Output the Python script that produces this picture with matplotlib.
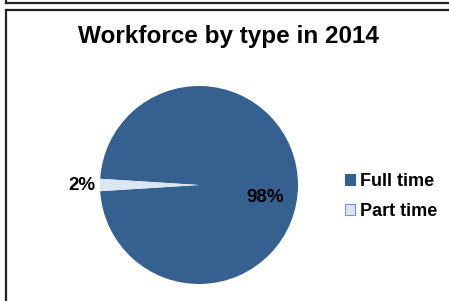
import matplotlib
matplotlib.use("Agg")
import matplotlib.pyplot as plt
from matplotlib.lines import Line2D
from matplotlib.patches import Patch

plt.rcParams["font.family"] = ["Liberation Sans", "DejaVu Sans"]

title = "Workforce by type in 2014"
categories = ["Full time", "Part time"]
shares = [98, 2]
colors = ["#36608F", "#DCE6F2"]
label_text = ["98%", "2%"]

W, H = 449, 301
fig = plt.figure(figsize=(W / 100, H / 100), dpi=100)

# box borders (pixel coords -> figure fraction)
def fx(x): return x / W
def fy(y): return 1 - y / H

for xs, ys in [([6, W], [3, 3]), ([6, 6], [0, 3]), ([6, W], [10, 10]), ([6, 6], [10, H])]:
    fig.add_artist(Line2D([fx(v) for v in xs], [fy(v) for v in ys],
                          color="#222222", lw=1.6))

fig.text(fx(228), fy(37), title, ha="center", va="center",
         fontsize=17.5, fontweight="bold", color="black")

# pie: center (199,185), radius 99 px
r = 99
ax = fig.add_axes([fx(199 - r), fy(185 + r), 2 * r / W, 2 * r / H])
ax.pie(shares, colors=colors, startangle=180 + 360 * shares[1] / 200,
       counterclock=True, radius=1.0,
       wedgeprops=dict(linewidth=0))
ax.set_xlim(-1, 1)
ax.set_ylim(-1, 1)
ax.axis("off")

ax.text(0.67, -0.13, label_text[0], ha="center", va="center",
        fontsize=13.5, fontweight="bold", color="black")
ax.text(-1.18, -0.01, label_text[1], ha="center", va="center",
        fontsize=13.5, fontweight="bold", color="black", clip_on=False)

handles = [Patch(facecolor=colors[0], edgecolor=colors[0], lw=0.8),
           Patch(facecolor=colors[1], edgecolor="#7396C4", lw=0.8)]
leg = fig.legend(handles, categories, loc="center left",
                 bbox_to_anchor=(fx(345), fy(196)), frameon=False,
                 borderpad=0, borderaxespad=0,
                 handlelength=0.55, handleheight=0.55, handletextpad=0.3,
                 labelspacing=0.72, prop=dict(size=13, weight="bold"))

fig.savefig("out.png", dpi=100, facecolor="white")
